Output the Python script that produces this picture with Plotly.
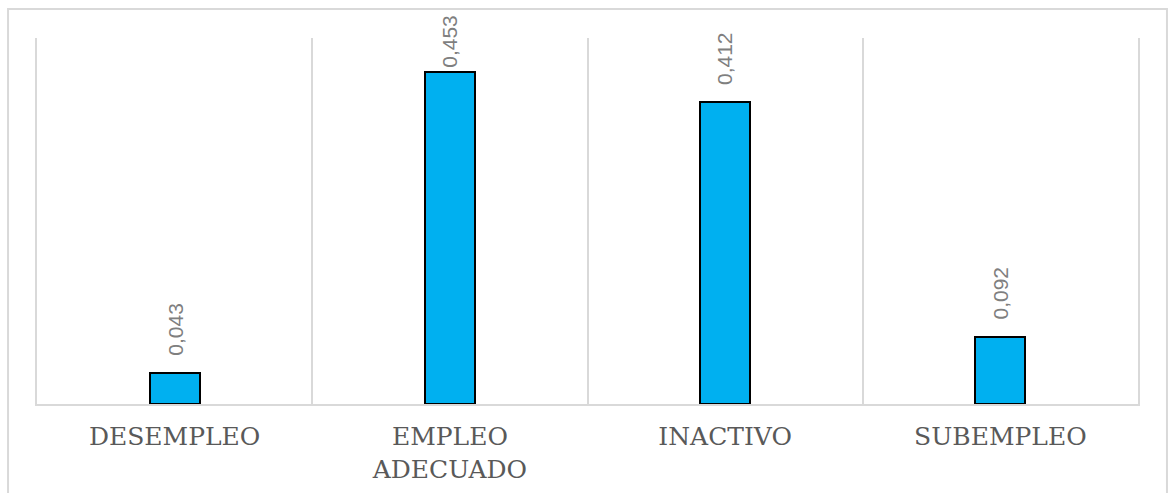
import plotly.graph_objects as go

# Categories and shares
categories = ["DESEMPLEO", "EMPLEO<br>ADECUADO", "INACTIVO", "SUBEMPLEO"]
shares = [0.043, 0.453, 0.412, 0.092]

# Vertical offset (px) of each value label above its bar
label_gaps = [15, 3, 15, 15]

GRID = "#d9d9d9"

fig = go.Figure(
    go.Bar(
        x=categories,
        y=shares,
        width=0.182,
        marker=dict(color="#00B0F0", line=dict(color="#000000", width=2)),
        hoverinfo="x+y",
    )
)

# Value labels, rotated, sitting above each bar
for cat, val, gap in zip(categories, shares, label_gaps):
    fig.add_annotation(
        x=cat,
        y=val,
        xref="x",
        yref="y",
        text=f"{val:.3f}".replace(".", ","),
        textangle=-90,
        showarrow=False,
        xanchor="center",
        yanchor="bottom",
        yshift=gap,
        font=dict(family="Liberation Sans", size=21, color="#7f7f7f"),
    )

# Outer chart frame
fig.add_shape(
    type="rect",
    xref="paper",
    yref="paper",
    x0=-0.0263,
    x1=1.0263,
    y0=-0.3,
    y1=1.0792,
    line=dict(color=GRID, width=2),
    fillcolor="rgba(0,0,0,0)",
    layer="below",
)

fig.update_layout(
    width=1175,
    height=493,
    margin=dict(l=37, r=37, t=38, b=89),
    paper_bgcolor="white",
    plot_bgcolor="white",
    showlegend=False,
    separators=",.",
    bargap=0,
    xaxis=dict(
        type="category",
        range=[-0.5, 3.5],
        tickson="boundaries",
        showgrid=True,
        gridcolor=GRID,
        gridwidth=1.5,
        showline=True,
        linecolor=GRID,
        linewidth=2,
        ticks="",
        tickfont=dict(family="DejaVu Serif", size=25, color="#595959"),
        ticklabelstandoff=9,
        automargin=False,
        fixedrange=True,
    ),
    yaxis=dict(
        range=[0, 0.5],
        showgrid=False,
        zeroline=False,
        showticklabels=False,
        showline=True,
        mirror=True,
        linecolor=GRID,
        linewidth=1.5,
        automargin=False,
        fixedrange=True,
    ),
)

fig.write_html("out.html")
